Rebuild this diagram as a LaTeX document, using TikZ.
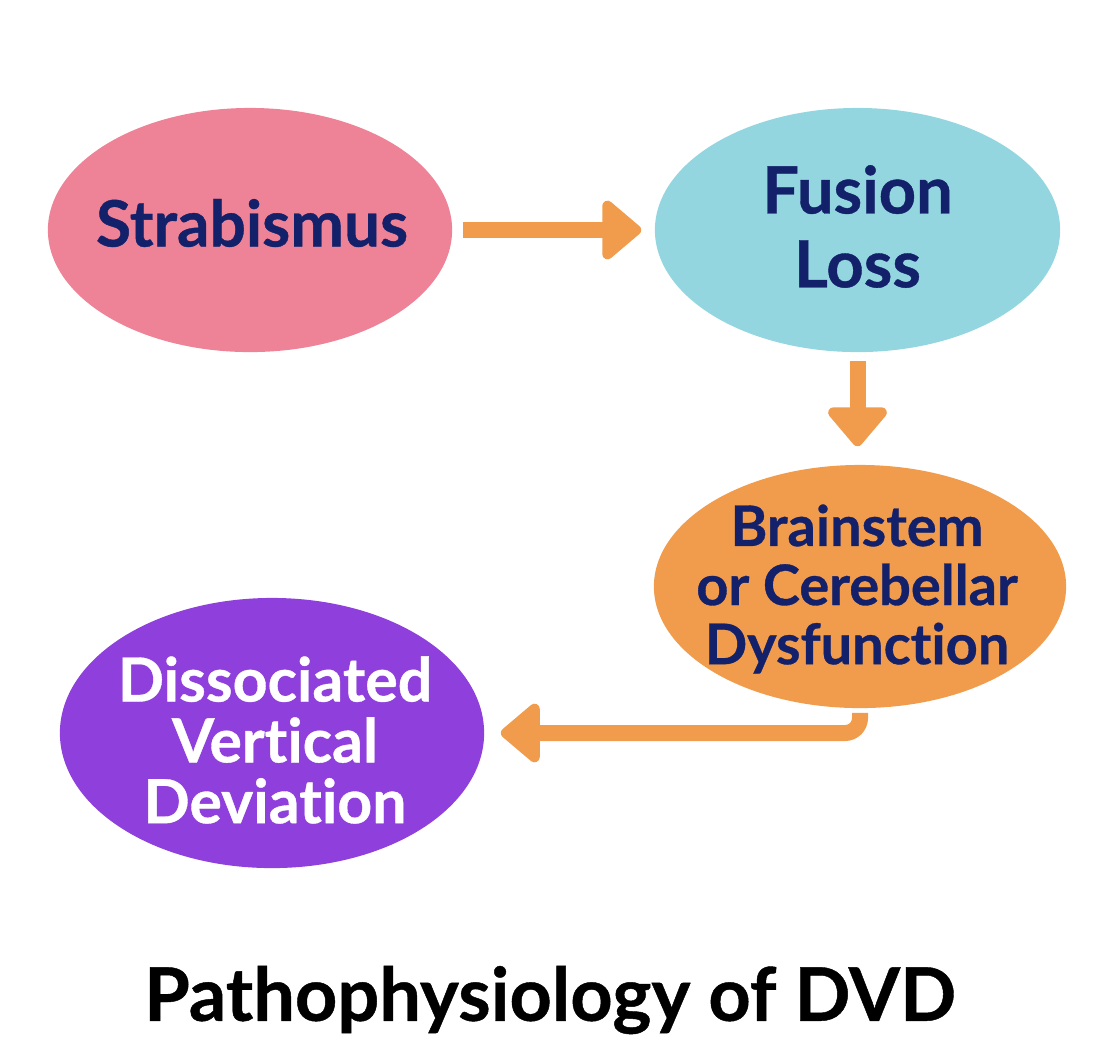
\documentclass[tikz,border=0pt]{standalone}
\usepackage{fontspec}
\setmainfont{Lato}[Ligatures=NoCommon, BoldFeatures={FakeBold=0.6}]
\usetikzlibrary{shapes.geometric,arrows.meta}
\definecolor{pinkfill}{HTML}{EE8296}
\definecolor{cyanfill}{HTML}{94D6DF}
\definecolor{orangefill}{HTML}{F09C4C}
\definecolor{purplefill}{HTML}{8F3FDB}
\definecolor{navytext}{HTML}{13206A}
\tikzset{
  bubble/.style={ellipse, inner sep=0pt, draw=none},
  nodetext/.style={inner sep=0pt, align=center, text=navytext},
  flow/.style={draw=orangefill, line width=0.16cm,
    -{Triangle[length=0.42cm, width=0.68cm, round]}},
}
\begin{document}
\begin{tikzpicture}[x=0.01cm, y=-0.01cm]
\useasboundingbox (0,0) rectangle (1106,1056);
% the four stages
\node[bubble, fill=pinkfill, minimum width=4.04cm, minimum height=2.44cm] (strab) at (250,230) {};
\node[bubble, fill=cyanfill, minimum width=4.05cm, minimum height=2.44cm] (fusion) at (857.5,230) {};
\node[bubble, fill=orangefill, minimum width=4.12cm, minimum height=2.43cm] (brain) at (860,586.5) {};
\node[bubble, fill=purplefill, minimum width=4.24cm, minimum height=2.70cm] (dvd) at (272,733) {};
\node[nodetext, font={\fontsize{18.2pt}{21pt}\selectfont\bfseries}] (strabtxt) at ([xshift=0.02cm, yshift=0.07cm]strab.center) {Strabismus};
\node[nodetext, font={\fontsize{18.5pt}{21pt}\selectfont\bfseries}] (fusiontxt) at ([yshift=0.035cm]fusion.center) {Fusion\\Loss};
\node[nodetext, font={\fontsize{15.9pt}{16.8pt}\selectfont\bfseries}] (braintxt) at ([xshift=-0.03cm, yshift=-0.025cm]brain.center) {Brainstem\\or Cerebellar\\Dysfunction};
\node[nodetext, text=white, font={\fontsize{17.3pt}{17.3pt}\selectfont\bfseries}] (dvdtxt) at ([xshift=0.03cm, yshift=-0.07cm]dvd.center) {Dissociated\\Vertical\\Deviation};
% arrows
\draw[flow, shorten <=0.10cm, shorten >=0.13cm] (strab.east) -- (fusion.west);
\draw[flow, shorten <=0.08cm, shorten >=0.18cm] (fusion.south) -- (fusion.south |- brain.north);
\draw[flow, rounded corners=0.15cm, shorten <=0.04cm, shorten >=0.16cm] (brain.south) |- (dvd.east);
% title
\node[inner sep=0pt, font={\fontsize{21pt}{26pt}\selectfont\bfseries}] (title) at (550,1000) {Pathophysiology of DVD};
\end{tikzpicture}
\end{document}
